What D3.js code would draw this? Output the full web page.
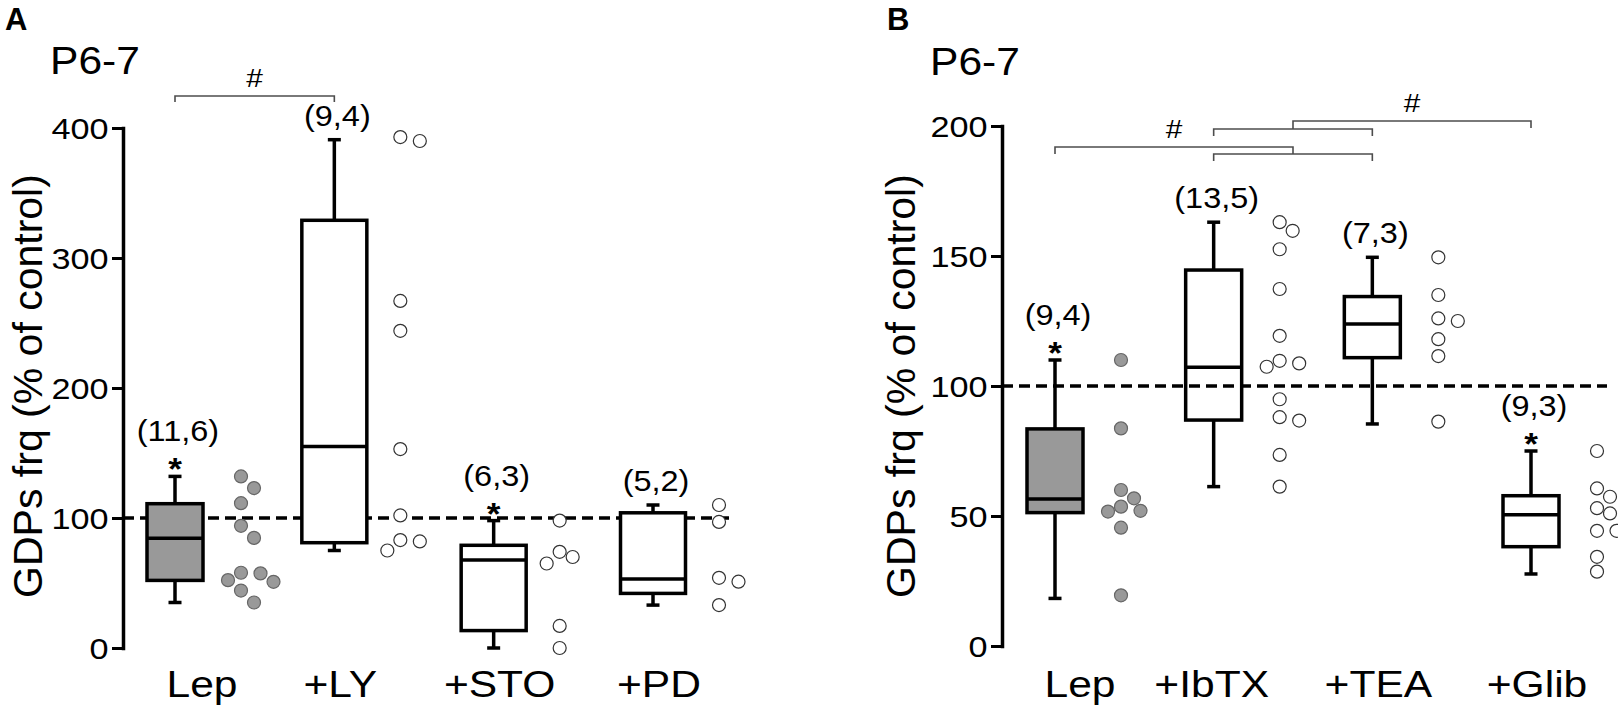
<!DOCTYPE html>
<html>
<head>
<meta charset="utf-8">
<script src="https://cdn.jsdelivr.net/npm/d3@7"></script>
<style>
body { margin: 0; background: #fff; }
text { font-family: "Liberation Sans", Arial, sans-serif; fill: #000; }
</style>
</head>
<body>
<div id="chart"></div>
<script>
// ---- panel A data ----
var groupsA = ["Lep", "+LY", "+STO", "+PD"];
// [min, q1, median, q3, max]
var statsA = [
    [35, 52, 84.5, 111, 132],
    [75, 81, 155, 329, 391],
    [0, 13.4, 67.7, 79, 98],
    [33, 42, 53, 104, 110]
];
var pointsA = [
    [132, 123, 111.4, 94, 84.7, 57.9, 52.2, 57.4, 50.9, 44.2, 35],
    [393, 390, 267, 244, 153, 102, 83, 82, 75],
    [98, 74, 70, 65, 17, 0],
    [110, 97, 54, 51, 33]
];
var countsA = ["(11,6)", "(9,4)", "(6,3)", "(5,2)"];
var starsA = [true, false, true, false];
var ticksA = [0, 100, 200, 300, 400];

// ---- panel B data ----
var groupsB = ["Lep", "+IbTX", "+TEA", "+Glib"];
var statsB = [
    [18.3, 51.3, 56.5, 83.5, 110],
    [61.3, 86.9, 107.2, 144.6, 163],
    [85.4, 110.9, 123.8, 134.4, 149.5],
    [27.7, 38.2, 50.5, 57.8, 75]
];
var pointsB = [
    [110, 83.7, 60, 56.8, 53.6, 51.7, 52, 45.5, 19.5],
    [163, 159.7, 152.6, 137.3, 119.3, 108.7, 109.7, 107.4, 94.9, 86.7, 88, 73.5, 61.3],
    [149.5, 135, 126, 125, 118, 111.5, 86.3],
    [75, 60.6, 57.4, 53, 51, 44.3, 44.3, 34.3, 28.6]
];
var countsB = ["(9,4)", "(13,5)", "(7,3)", "(9,3)"];
var starsB = [true, false, false, true];
var ticksB = [0, 50, 100, 150, 200];

var svg = d3.select("#chart").append("svg")
    .attr("width", 1618)
    .attr("height", 711)
    .style("background", "#fff");

function stretched(g, txt, x, y, size, sx, anchor, weight) {
    return g.append("text")
        .attr("transform", `translate(${x},${y}) scale(${sx},1)`)
        .attr("text-anchor", anchor || "middle")
        .attr("font-size", size)
        .attr("font-weight", weight || "normal")
        .text(txt);
}

// simple deterministic dodge so that dots don't overlap
function dodge(vals, y, r) {
    var placed = [];
    var out = new Array(vals.length);
    var order = vals.map((v, i) => i).sort((a, b) => vals[b] - vals[a]);
    order.forEach(function (i) {
        var py = y(vals[i]);
        var cands = [0];
        for (var k = 1; k < 8; k++) { cands.push(k * 6.5); cands.push(-k * 6.5); }
        for (var c of cands) {
            if (placed.every(p => Math.hypot(p[0] - c, p[1] - py) >= 2 * r + 0.8)) {
                out[i] = c;
                placed.push([c, py]);
                break;
            }
        }
    });
    return out;
}

function bracket(g, xa, xb, y, legA, legB, label) {
    g.append("path")
        .attr("d", `M${xa},${y + legA}V${y}H${xb}V${y + legB}`)
        .attr("fill", "none")
        .attr("stroke", "#4d4d4d")
        .attr("stroke-width", 1.6);
    if (label) stretched(g, label, (xa + xb) / 2, y - 9, 26, 1.15);
}

function panel(cfg) {
    var g = svg.append("g");
    var y = d3.scaleLinear().domain(cfg.domain).range(cfg.yRange);
    var x = d3.scalePoint().domain(cfg.groups).range(cfg.xRange);

    // panel letter and age
    g.append("text").attr("x", cfg.letterX).attr("y", 30)
        .attr("font-size", 31).attr("font-weight", "bold").text(cfg.letter);
    stretched(g, "P6-7", cfg.titleX, cfg.titleY, 38, 1.12, "start");

    // y axis
    var axis = g.append("g")
        .attr("transform", `translate(${cfg.axisX},0)`)
        .call(d3.axisLeft(y).tickValues(cfg.ticks).tickSize(11).tickSizeOuter(0));
    axis.select(".domain").attr("stroke", "#000").attr("stroke-width", 3.5).attr("stroke-linecap", "square");
    axis.selectAll(".tick line").attr("stroke", "#000").attr("stroke-width", 3);
    axis.selectAll(".tick text")
        .attr("font-size", 29)
        .attr("font-family", "'Liberation Sans', Arial, sans-serif")
        .attr("x", -14.5 / 1.18)
        .attr("dy", "0.36em")
        .attr("transform", "scale(1.18,1)");

    g.append("text")
        .attr("transform", `translate(${cfg.labelX},386) rotate(-90)`)
        .attr("text-anchor", "middle")
        .attr("font-size", 41)
        .text("GDPs frq (% of control)");

    function dashed() {
        g.append("line")
            .attr("x1", cfg.axisX).attr("x2", cfg.dashEnd)
            .attr("y1", y(100)).attr("y2", y(100))
            .attr("stroke", "#000").attr("stroke-width", 3.5)
            .attr("stroke-dasharray", "11,6");
    }
    if (!cfg.dashOnTop) dashed();

    // boxes
    cfg.stats.forEach(function (s, i) {
        var cx = x(cfg.groups[i]);
        var w = cfg.boxWidths[i];
        var bg = g.append("g");
        bg.append("line").attr("x1", cx).attr("x2", cx).attr("y1", y(s[0])).attr("y2", y(s[4]))
            .attr("stroke", "#000").attr("stroke-width", 3.5);
        [s[0], s[4]].forEach(function (v) {
            bg.append("line").attr("x1", cx - 6.5).attr("x2", cx + 6.5).attr("y1", y(v)).attr("y2", y(v))
                .attr("stroke", "#000").attr("stroke-width", 3.5);
        });
        bg.append("rect")
            .attr("x", cx - w / 2).attr("width", w)
            .attr("y", y(s[3])).attr("height", y(s[1]) - y(s[3]))
            .attr("fill", i === 0 ? "#999999" : "#fff")
            .attr("stroke", "#000").attr("stroke-width", 3.5);
        bg.append("line").attr("x1", cx - w / 2).attr("x2", cx + w / 2).attr("y1", y(s[2])).attr("y2", y(s[2]))
            .attr("stroke", "#000").attr("stroke-width", 3.5);

        var top = y(s[4]);
        if (cfg.stars[i]) stretched(g, "*", cx, top + 4, 32, 1.1, "middle", "bold");
        stretched(g, cfg.counts[i], cx + 3, top - (cfg.stars[i] ? 45 : 24) + 10, 29, 1.12);
        stretched(g, cfg.groups[i], cx + cfg.labelShift[i], 697, 37, 1.15);
    });

    if (cfg.dashOnTop) dashed();

    // individual points
    cfg.points.forEach(function (vals, i) {
        var cx = x(cfg.groups[i]) + 66;
        var off = dodge(vals, y, 6.5);
        g.selectAll(null).data(vals).enter().append("circle")
            .attr("cx", (d, j) => cx + off[j])
            .attr("cy", d => y(d))
            .attr("r", 6.5)
            .attr("fill", i === 0 ? "#999999" : "#fff")
            .attr("stroke", i === 0 ? "#666" : "#333")
            .attr("stroke-width", 1.2);
    });

    cfg.brackets(g, x);
}

panel({
    letter: "A", letterX: 5, titleX: 50, titleY: 74,
    groups: groupsA, stats: statsA, points: pointsA, counts: countsA, stars: starsA, ticks: ticksA,
    domain: [0, 400], yRange: [648, 128], xRange: [175, 653], axisX: 123, labelX: 42,
    boxWidths: [56, 65, 65, 65], labelShift: [27, 6, 6, 6], dashEnd: 730, dashOnTop: false,
    brackets: function (g, x) {
        bracket(g, x(groupsA[0]), x(groupsA[1]), 96, 6, 6, "#");
    }
});

panel({
    letter: "B", letterX: 887, titleX: 930, titleY: 75,
    groups: groupsB, stats: statsB, points: pointsB, counts: countsB, stars: starsB, ticks: ticksB,
    domain: [0, 200], yRange: [646, 126], xRange: [1055, 1531], axisX: 1002, labelX: 915,
    boxWidths: [56, 56, 56, 56], labelShift: [25, -2, 6, 6], dashEnd: 1607, dashOnTop: true,
    brackets: function (g, x) {
        var mid = (x(groupsB[1]) + x(groupsB[2])) / 2;
        bracket(g, x(groupsB[1]), x(groupsB[2]), 154, 7, 7);
        bracket(g, x(groupsB[0]), mid, 147, 7, 7, "#");
        bracket(g, x(groupsB[1]), x(groupsB[2]), 129, 7, 7);
        bracket(g, mid, x(groupsB[3]), 121, 8, 7, "#");
    }
});
</script>
</body>
</html>
